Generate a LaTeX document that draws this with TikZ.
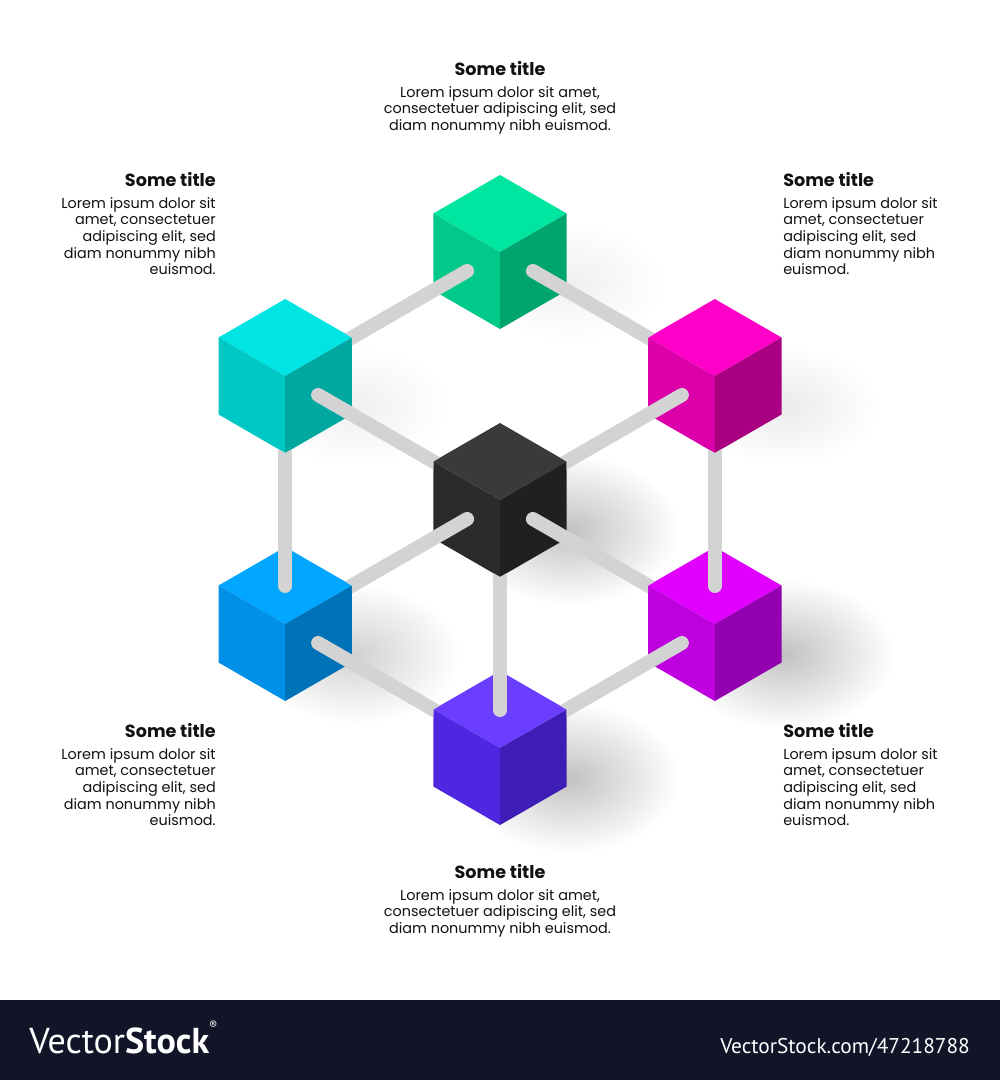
\documentclass[tikz,border=0pt]{standalone}
\usepackage{fontspec}
\setmainfont{Poppins}
\newfontfamily\barfont{PT Sans}
\usetikzlibrary{calc}
\definecolor{gT}{HTML}{00E5A0}\definecolor{gL}{HTML}{00C98A}\definecolor{gR}{HTML}{00A56E}
\definecolor{cT}{HTML}{00E4E4}\definecolor{cL}{HTML}{00C8C4}\definecolor{cR}{HTML}{00A8A0}
\definecolor{mT}{HTML}{FF00C8}\definecolor{mL}{HTML}{DC00AA}\definecolor{mR}{HTML}{A80080}
\definecolor{kT}{HTML}{3A3A3A}\definecolor{kL}{HTML}{2B2B2B}\definecolor{kR}{HTML}{202020}
\definecolor{bT}{HTML}{00A6FF}\definecolor{bL}{HTML}{0090E8}\definecolor{bR}{HTML}{0072B8}
\definecolor{pT}{HTML}{E100FF}\definecolor{pL}{HTML}{BE00DE}\definecolor{pR}{HTML}{9300B0}
\definecolor{iT}{HTML}{6B3DFF}\definecolor{iL}{HTML}{4F27E0}\definecolor{iR}{HTML}{3D1DB5}
\definecolor{rodc}{HTML}{D3D3D3}
\definecolor{barc}{HTML}{121428}
\definecolor{txt}{HTML}{111111}
\newcommand\cubeat[4]{%
  \fill[#2] (#1) -- ++(-66.7,-38.5) -- ++(66.7,-38.5) -- ++(66.7,38.5) -- cycle;
  \fill[#3] (#1) -- ++(-66.7,-38.5) -- ++(0,77) -- ++(66.7,38.5) -- cycle;
  \fill[#4] (#1) -- ++(0,77) -- ++(66.7,-38.5) -- ++(0,-77) -- cycle;}
\newcommand\rodline[2]{%
  \begin{scope}
  \clip (-20,-20) -- (1020,-20) -- (1020,1100) -- (-20,1100) -- cycle
        ($(#2)+(0,-77)$) -- ++(-66.7,38.5) -- ++(0,77) -- ++(66.7,38.5) -- ++(66.7,-38.5) -- ++(0,-77) -- cycle;
  \draw[rodst] ($(#1)!28.5pt!(#2)$) -- (#2);
  \end{scope}}
\newcommand\shadowat[4]{\shade[inner color=black!#4, outer color=white] (#1) ellipse (#2 and #3);}
\begin{document}
\begin{tikzpicture}[x=0.75pt,y=-0.75pt,
  rodst/.style={draw=rodc, line width=10.5pt, line cap=round},
  ttl/.style={font=\fontsize{13.2}{15}\selectfont\bfseries, text=txt, inner sep=0pt},
  bdy/.style={font=\fontsize{10.8}{12.5}\selectfont, text=txt, inner sep=0pt}]
\useasboundingbox (0,0) rectangle (1000,1080);
\fill[white] (0,0) rectangle (1000,1080);
% cube anchor points (front-top corners)
\coordinate (C) at (500,500);
\coordinate (G) at (500,252);
\coordinate (Cy) at (285.2,376);
\coordinate (M) at (714.8,376);
\coordinate (B) at (285.2,624);
\coordinate (P) at (714.8,624);
\coordinate (I) at (500,748);
% shadows
\shadowat{$(C)+(70,30)$}{110}{75}{24}
\shadowat{$(B)+(70,30)$}{105}{70}{18}
\shadowat{$(P)+(70,30)$}{110}{75}{24}
\shadowat{$(I)+(70,30)$}{110}{75}{24}
\shadowat{$(G)+(70,30)$}{95}{60}{6}
\shadowat{$(Cy)+(70,30)$}{95}{60}{6}
\shadowat{$(M)+(70,30)$}{95}{60}{8}
% cubes
\cubeat{G}{gT}{gL}{gR}
\cubeat{Cy}{cT}{cL}{cR}
\cubeat{M}{mT}{mL}{mR}
\cubeat{C}{kT}{kL}{kR}
\cubeat{B}{bT}{bL}{bR}
\cubeat{P}{pT}{pL}{pR}
\cubeat{I}{iT}{iL}{iR}
% rods
\rodline{G}{Cy}
\rodline{G}{M}
\rodline{Cy}{C}
\rodline{M}{C}
\rodline{B}{Cy}
\rodline{P}{M}
\rodline{C}{B}
\rodline{C}{P}
\rodline{I}{C}
\rodline{B}{I}
\rodline{P}{I}
% texts
\node[ttl] (t1) at (500,69) {Some title};
\node[bdy, align=center, anchor=north] (b1) at (500,86) {Lorem ipsum dolor sit amet,\\consectetuer adipiscing elit, sed\\diam nonummy nibh euismod.};
\node[ttl, anchor=east] (t2) at (216,180) {Some title};
\node[bdy, align=right, anchor=north east] (b2) at (216,197) {Lorem ipsum dolor sit\\amet, consectetuer\\adipiscing elit, sed\\diam nonummy nibh\\euismod.};
\node[ttl, anchor=west] (t3) at (783,180) {Some title};
\node[bdy, align=left, anchor=north west] (b3) at (783,197) {Lorem ipsum dolor sit\\amet, consectetuer\\adipiscing elit, sed\\diam nonummy nibh\\euismod.};
\node[ttl, anchor=east] (t4) at (216,731) {Some title};
\node[bdy, align=right, anchor=north east] (b4) at (216,748) {Lorem ipsum dolor sit\\amet, consectetuer\\adipiscing elit, sed\\diam nonummy nibh\\euismod.};
\node[ttl, anchor=west] (t5) at (783,731) {Some title};
\node[bdy, align=left, anchor=north west] (b5) at (783,748) {Lorem ipsum dolor sit\\amet, consectetuer\\adipiscing elit, sed\\diam nonummy nibh\\euismod.};
\node[ttl] (t6) at (500,872) {Some title};
\node[bdy, align=center, anchor=north] (b6) at (500,889) {Lorem ipsum dolor sit amet,\\consectetuer adipiscing elit, sed\\diam nonummy nibh euismod.};
% bottom bar
\fill[barc] (0,1000) rectangle (1000,1080);
\node[anchor=base west, inner sep=0pt, text=white, font=\barfont\fontsize{27}{29}\selectfont] (vs) at (29,1053) {Vector\textbf{Stock}\raisebox{1.3ex}{\fontsize{9}{9}\selectfont ®}};
\node[anchor=base east, inner sep=0pt, text=white, font=\barfont\fontsize{16}{18}\selectfont] (vu) at (970,1053) {VectorStock.com/47218788};
\end{tikzpicture}
\end{document}
